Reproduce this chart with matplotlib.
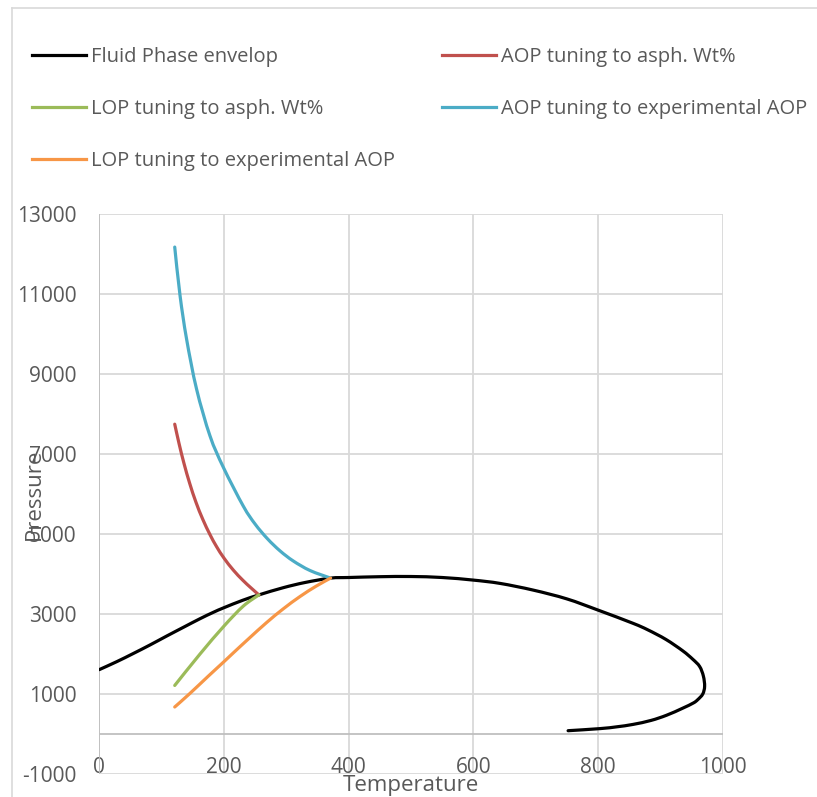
import matplotlib
matplotlib.use("Agg")
import numpy as np
import matplotlib.pyplot as plt
from matplotlib.lines import Line2D
from matplotlib.path import Path
from matplotlib.patches import PathPatch

plt.rcParams['font.family'] = 'Open Sans'
plt.rcParams['axes.unicode_minus'] = False

# phase envelope (temperature, pressure)
env_T = [0, 28, 54, 81, 108, 135, 161, 183, 200, 230, 256, 295, 330, 371, 400,
         450, 500, 550, 600, 643, 696, 750, 800, 856, 880, 909, 936, 952, 963, 969,
         971, 968, 960, 953, 935, 910, 885, 856, 830, 803, 752]
env_P = [1611, 1810, 2010, 2225, 2450, 2670, 2880, 3045, 3160, 3345, 3480, 3660,
         3790, 3900, 3915, 3935, 3940, 3915, 3850, 3767, 3600, 3380, 3100, 2770,
         2605, 2365, 2080, 1870, 1690, 1450, 1193, 1000, 860, 777, 640, 470, 340,
         240, 180, 135, 83]

# AOP tuning to asph. Wt%
aop_wt_T = [121, 128, 136, 145, 155, 166, 177.5, 188, 200, 215, 230, 243, 256]
aop_wt_P = [7750, 7260, 6760, 6270, 5800, 5370, 4990, 4690, 4400, 4100, 3850, 3660, 3480]

# LOP tuning to asph. Wt%
lop_wt_T = [121, 161.5, 200, 231, 256]
lop_wt_P = [1215, 2000, 2700, 3200, 3480]

# AOP tuning to experimental AOP
aop_exp_T = [121, 129.5, 140, 156, 177.5, 199, 231, 250, 270, 290, 311, 338, 371]
aop_exp_P = [12180, 10970, 9880, 8630, 7460, 6670, 5700, 5250, 4880, 4580, 4330, 4090, 3900]

# LOP tuning to experimental AOP
lop_exp_T = [121, 145, 175, 200, 215, 240, 268.5, 295, 322, 348, 371]
lop_exp_P = [676, 1010, 1450, 1810, 2030, 2390, 2790, 3130, 3440, 3700, 3900]

x_ticks = [0, 200, 400, 600, 800, 1000]
y_ticks = [-1000, 1000, 3000, 5000, 7000, 9000, 11000, 13000]

text_col = '#595959'
grid_col = '#D9D9D9'
lw = 2.3


def smooth_path(xs, ys):
    # Catmull-Rom through the points, written as cubic Bezier segments
    pts = np.column_stack([xs, ys]).astype(float)
    ext = np.vstack([pts[0], pts, pts[-1]])
    verts = [pts[0]]
    codes = [Path.MOVETO]
    for i in range(len(pts) - 1):
        p0, p1, p2, p3 = ext[i], ext[i + 1], ext[i + 2], ext[i + 3]
        verts += [p1 + (p2 - p0) / 6, p2 - (p3 - p1) / 6, p2]
        codes += [Path.CURVE4] * 3
    return Path(verts, codes)


fig = plt.figure(figsize=(8.17, 7.97), dpi=100)
ax = fig.add_axes([99.3 / 817, 1 - 774 / 797, 623.4 / 817, 559.7 / 797])

series = [
    (env_T, env_P, 'black', 'Fluid Phase envelop'),
    (aop_wt_T, aop_wt_P, '#C0504D', 'AOP tuning to asph. Wt%'),
    (lop_wt_T, lop_wt_P, '#9BBB59', 'LOP tuning to asph. Wt%'),
    (aop_exp_T, aop_exp_P, '#4BACC6', 'AOP tuning to experimental AOP'),
    (lop_exp_T, lop_exp_P, '#F79646', 'LOP tuning to experimental AOP'),
]
handles = {}
for xs, ys, c, name in series:
    ax.add_patch(PathPatch(smooth_path(xs, ys), fill=False, edgecolor=c, lw=lw,
                           capstyle='round', joinstyle='round', zorder=3))
    handles[name] = Line2D([], [], color=c, lw=lw)

ax.set_xlim(0, 1000)
ax.set_ylim(-1000, 13000)
ax.set_xticks(x_ticks)
ax.set_yticks(y_ticks)
ax.grid(True, color=grid_col, lw=1.3)
ax.set_axisbelow(True)
for s in ax.spines.values():
    s.set_visible(False)
ax.axhline(0, color='#BFBFBF', lw=1.3, zorder=1)
ax.axvline(0, color='#BFBFBF', lw=1.3, zorder=1)

ax.tick_params(axis='both', length=0, labelsize=15, labelcolor=text_col)
ax.tick_params(axis='x', pad=-12.5)
ax.tick_params(axis='y', pad=16.5)

ax.set_xlabel('Temperature', fontsize=16, color=text_col)
ax.set_ylabel('Pressure', fontsize=16, color=text_col)
ax.xaxis.set_label_coords(0.5, -0.002)
ax.yaxis.set_label_coords(-0.087, 0.5)

leg_kw = dict(loc='upper left', ncol=1, frameon=False, fontsize=14.5,
              handlelength=2.69, handletextpad=0.25, labelspacing=1.6,
              borderpad=0, borderaxespad=0, labelcolor=text_col)
col1 = ['Fluid Phase envelop', 'LOP tuning to asph. Wt%', 'LOP tuning to experimental AOP']
col2 = ['AOP tuning to asph. Wt%', 'AOP tuning to experimental AOP']
fig.legend([handles[n] for n in col1], col1,
           bbox_to_anchor=(32 / 817, 1 - 47 / 797), **leg_kw)
fig.legend([handles[n] for n in col2], col2,
           bbox_to_anchor=(442 / 817, 1 - 47 / 797), **leg_kw)

# chart area border
fig.add_artist(Line2D([12 / 817, 12 / 817], [1 - 8 / 797, 0], color=grid_col, lw=1.2))
fig.add_artist(Line2D([12 / 817, 1], [1 - 8 / 797, 1 - 8 / 797], color=grid_col, lw=1.2))

fig.savefig('out.png', dpi=100)
